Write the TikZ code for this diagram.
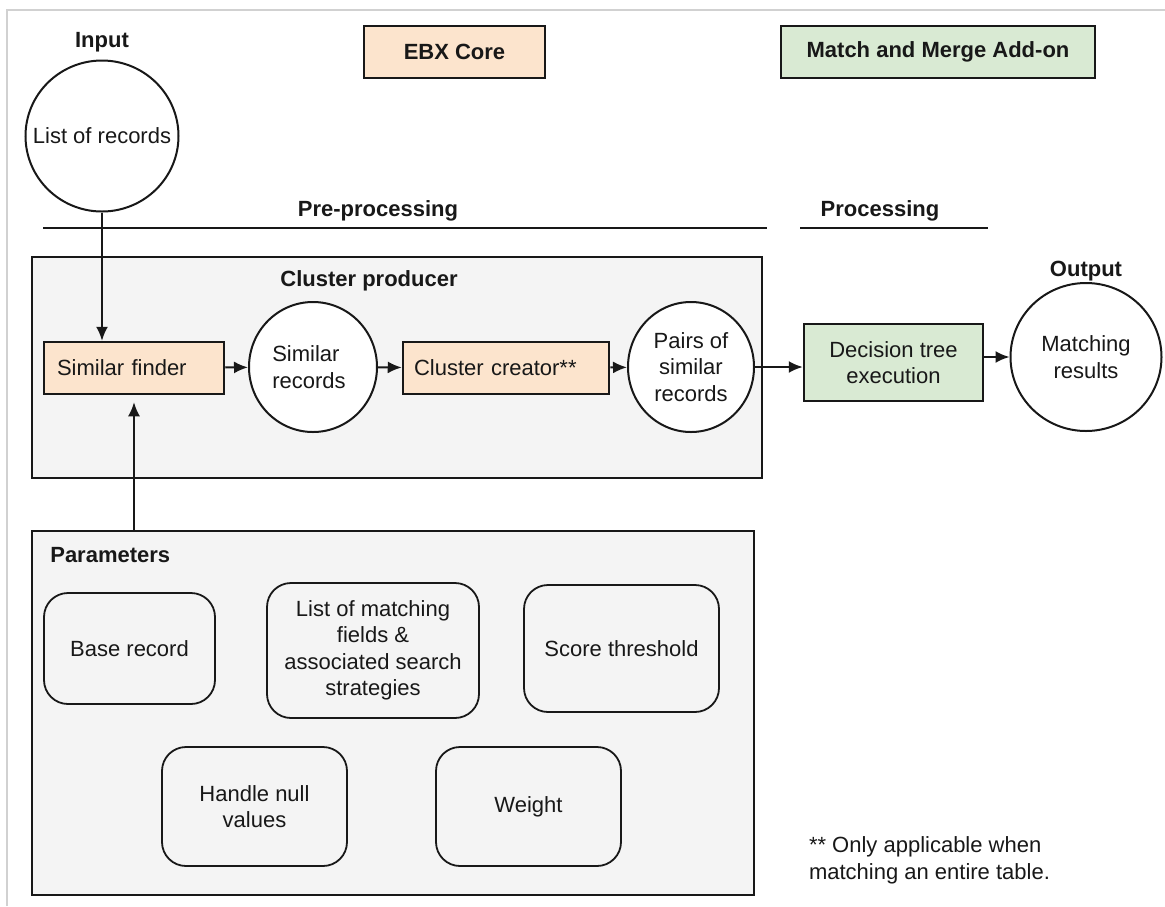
\documentclass[tikz,border=0pt]{standalone}
\usepackage{fontspec}
\setmainfont{Liberation Sans}
\usetikzlibrary{shapes.geometric,arrows.meta,positioning}
\definecolor{corefill}{RGB}{252,228,205}
\definecolor{addonfill}{RGB}{217,234,211}
\definecolor{panelfill}{RGB}{244,244,244}
\definecolor{ink}{RGB}{24,24,24}

\begin{document}
\begin{tikzpicture}[x=1pt, y=-1pt, line width=2pt, draw=ink, text=ink,
    every node/.style={font=\fontsize{22}{26.5}\selectfont},
    hd/.style={font=\fontsize{22}{26.5}\selectfont\bfseries},
    core/.style={draw, fill=corefill, line width=2.5pt, inner sep=0pt},
    addon/.style={draw, fill=addonfill, line width=2.5pt, inner sep=0pt},
    panel/.style={draw, fill=panelfill, line width=2.5pt, inner sep=0pt},
    blob/.style={draw, fill=white, ellipse, inner sep=0pt},
    param/.style={draw, rounded corners=24pt, line width=1.8pt, align=center, inner sep=0pt},
    flow/.style={-{Latex[length=14pt,width=12pt]}}] 
    \useasboundingbox (0,0) rectangle (1165,906);
    \draw[black!18, line width=1.5pt] (7,906) -- (7,10) -- (1165,10);
    % legend
    \node[core, hd, minimum width=181pt, minimum height=52pt] (15) at (454.5,52) {EBX Core};
    \node[addon, hd, minimum width=314pt, minimum height=52pt] (16) at (938,52) {Match and Merge Add-on};
    % input
    \node[hd] (17) at (102,42) {Input};
    \node[blob, minimum width=153pt, minimum height=151pt, label={center:List of records}] (1) at (102,136) {};
    % phases
    \node[hd] (18) at (378,211) {Pre-processing};
    \node[hd] (19) at (880,211) {Processing};
    \draw (43,228) -- (767,228);
    \draw (800,228) -- (988,228);
    % cluster producer
    \node[panel, minimum width=730pt, minimum height=221pt] (2) at (397,367.5) {};
    \node[hd] (20) at (369,281) {Cluster producer};
    \node[core, minimum height=52pt, text width=154pt, inner xsep=13pt, align=left] (3) at (134,368) {Similar finder};
    \node[blob, minimum width=128pt, minimum height=130pt, label={[align=left, xshift=-4pt]center:Similar\\records}] (4) at (313,367) {};
    \node[core, minimum height=52pt, text width=184pt, inner xsep=11pt, align=left] (5) at (506,368) {Cluster creator**};
    \node[blob, minimum width=126pt, minimum height=130pt, label={[align=center]center:Pairs of\\similar\\records}] (6) at (691,367) {};
    % processing and output
    \node[addon, minimum width=179pt, minimum height=77pt, align=center] (7) at (893.5,362.5) {Decision tree\\execution};
    \node[hd] (21) at (1086,271) {Output};
    \node[blob, minimum width=151pt, minimum height=148pt, label={[align=center]center:Matching\\results}] (8) at (1086,357) {};
    % parameters
    \node[panel, minimum width=722pt, minimum height=364pt] (9) at (393,713) {};
    \node[hd, anchor=west] (22) at (46,555) {Parameters};
    \node[param, minimum width=171pt, minimum height=111pt] (10) at (129.5,648.5) {Base record};
    \node[param, minimum width=212pt, minimum height=135pt] (11) at (373,650.5) {List of matching\\fields \&\\associated search\\strategies};
    \node[param, minimum width=195pt, minimum height=127pt] (12) at (621.5,648.5) {Score threshold};
    \node[param, minimum width=185pt, minimum height=119pt] (13) at (254.5,806.5) {Handle null\\values};
    \node[param, minimum width=185pt, minimum height=119pt] (14) at (528.5,806.5) {Weight};
    \node[anchor=north west, align=left, inner sep=0pt] (23) at (808,836) {** Only applicable when\\matching an entire table.};
    % connectors
    \draw[flow] (1.south) -- (1.south |- 3.north);
    \draw[flow, shorten >=7pt] (9.north -| 3.south) -- (3.south);
    \draw[flow] (3) -- (4);
    \draw[flow] (4) -- (5);
    \draw[flow] (5) -- (6);
    \draw[flow] (6.east) -- (6.east -| 7.west);
    \draw[flow] (7.east |- 8.west) -- (8.west);
\end{tikzpicture}
\end{document}
